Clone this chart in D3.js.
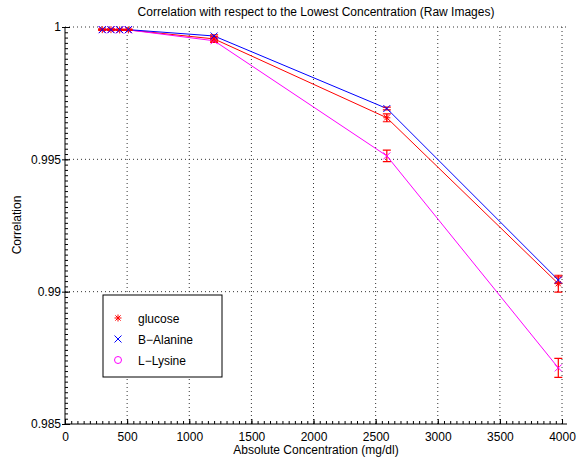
<!DOCTYPE html>
<html>
<head>
<meta charset="utf-8">
<script src="https://cdn.jsdelivr.net/npm/d3@7"></script>
<style>
  body { margin: 0; background: #fff; }
  svg { font-family: "Liberation Sans", Arial, sans-serif; }
  .axis path, .axis line { stroke: #000; }
  .axis text { font-size: 12px; fill: #000; }
</style>
</head>
<body>
<div id="chart"></div>
<script>
"use strict"

// concentrations (mg/dl)
var conc = [300, 370, 440, 510, 1200, 2590, 3970];
var glucose = [0.99990, 0.99990, 0.99989, 0.99989, 0.99955, 0.99657, 0.99030];
var alanine = [0.99990, 0.99990, 0.99990, 0.99990, 0.99966, 0.99692, 0.99044];
var lysine = [0.99990, 0.99990, 0.99989, 0.99989, 0.99948, 0.99513, 0.98712];
var glucoseErr = [0.00002, 0.00002, 0.00002, 0.00002, 0.00008, 0.00015, 0.00032];
var alanineErr = [0.00001, 0.00001, 0.00001, 0.00001, 0.00004, 0.00005, 0.00012];
var lysineErr = [0.00002, 0.00002, 0.00002, 0.00002, 0.00006, 0.00022, 0.00036];
var xTicks = [0, 500, 1000, 1500, 2000, 2500, 3000, 3500, 4000];
var yTicks = [0.985, 0.99, 0.995, 1];
var seriesNames = ['glucose', 'B\u2212Alanine', 'L\u2212Lysine'];

var width = 577, height = 461;
var margin = { left: 65, right: 10, top: 27, bottom: 37 };

var svg = d3.select('#chart').append('svg')
  .attr('width', width)
  .attr('height', height);

var x = d3.scaleLinear().domain([0, 4040]).range([margin.left, 567]);
var y = d3.scaleLinear().domain([0.985, 1]).range([424, margin.top]);

// dotted grid
var grid = svg.append('g').attr('class', 'grid');
grid.selectAll('.vg').data(xTicks.slice(1)).enter().append('line')
  .attr('x1', d => x(d)).attr('x2', d => x(d))
  .attr('y1', y(0.985)).attr('y2', y(1))
  .attr('stroke', '#333').attr('stroke-width', 1)
  .attr('stroke-dasharray', '1,3');
grid.selectAll('.hg').data(yTicks.slice(1)).enter().append('line')
  .attr('x1', x(0)).attr('x2', x(4040))
  .attr('y1', d => y(d)).attr('y2', d => y(d))
  .attr('stroke', '#333').attr('stroke-width', 1)
  .attr('stroke-dasharray', '1,3');

// minor ticks
svg.append('g')
  .attr('class', 'axis')
  .attr('transform', 'translate(0,' + y(0.985) + ')')
  .call(d3.axisBottom(x).tickValues(d3.range(0, 4001, 50)).tickSize(-3).tickFormat(''))
  .select('.domain').remove();
svg.append('g')
  .attr('class', 'axis')
  .attr('transform', 'translate(' + x(0) + ',0)')
  .call(d3.axisLeft(y).tickValues(d3.range(0, 76).map(i => 0.985 + i * 0.0002)).tickSize(-3).tickFormat(''))
  .select('.domain').remove();

// main axes
svg.append('g')
  .attr('class', 'axis')
  .attr('transform', 'translate(0,' + y(0.985) + ')')
  .call(d3.axisBottom(x).tickValues(xTicks).tickFormat(d3.format('d'))
    .tickSizeInner(-5).tickSizeOuter(0).tickPadding(8))
  .call(g => g.select('.domain').attr('d', 'M' + x(0) + ',0H' + x(4040)));
svg.append('g')
  .attr('class', 'axis')
  .attr('transform', 'translate(' + x(0) + ',0)')
  .call(d3.axisLeft(y).tickValues(yTicks).tickFormat(d => d === 1 ? '1' : d3.format('')(+d.toFixed(3)))
    .tickSizeInner(-5).tickSizeOuter(0).tickPadding(4))
  .call(g => g.select('.domain').attr('d', 'M0,' + y(0.985) + 'V' + y(1)))
  .call(g => g.selectAll('.tick line').attr('x1', -3));

// lines
var line = d3.line().x((d, i) => x(conc[i])).y(d => y(d));
var series = [
  { vals: glucose, err: glucoseErr, color: '#ff0000' },
  { vals: lysine, err: lysineErr, color: '#ff00ff' },
  { vals: alanine, err: alanineErr, color: '#0000ff' }
];
series.forEach(s => {
  svg.append('path').datum(s.vals)
    .attr('d', line)
    .attr('fill', 'none')
    .attr('stroke', s.color)
    .attr('stroke-width', 1);
});

// error bars (red)
series.forEach(s => {
  var eb = svg.append('g');
  s.vals.forEach((v, i) => {
    var cx = x(conc[i]), y0 = y(v - s.err[i]), y1 = y(v + s.err[i]);
    eb.append('path')
      .attr('d', 'M' + cx + ',' + y0 + 'V' + y1 +
        'M' + (cx - 4) + ',' + y0 + 'H' + (cx + 4) +
        'M' + (cx - 4) + ',' + y1 + 'H' + (cx + 4))
      .attr('stroke', '#ff0000').attr('stroke-width', 1.2).attr('fill', 'none');
  });
});

function xMark(g, cx, cy, r, color) {
  g.append('path')
    .attr('d', 'M' + (cx - r) + ',' + (cy - r) + 'L' + (cx + r) + ',' + (cy + r) +
      'M' + (cx - r) + ',' + (cy + r) + 'L' + (cx + r) + ',' + (cy - r))
    .attr('stroke', color).attr('stroke-width', 1).attr('fill', 'none');
}
function starMark(g, cx, cy, r, color) {
  xMark(g, cx, cy, r * 0.75, color);
  g.append('path')
    .attr('d', 'M' + (cx - r) + ',' + cy + 'H' + (cx + r) + 'M' + cx + ',' + (cy - r) + 'V' + (cy + r))
    .attr('stroke', color).attr('stroke-width', 1).attr('fill', 'none');
}

var marks = svg.append('g');
lysine.forEach((v, i) => xMark(marks, x(conc[i]), y(v), 3.5, '#ff00ff'));
glucose.forEach((v, i) => starMark(marks, x(conc[i]), y(v), 3.5, '#ff0000'));
alanine.forEach((v, i) => xMark(marks, x(conc[i]), y(v), 3.5, '#0000ff'));

// legend
var lg = svg.append('g').attr('transform', 'translate(103,295)');
lg.append('rect').attr('width', 119).attr('height', 82)
  .attr('fill', '#fff').attr('stroke', '#000').attr('stroke-width', 1);
var legendColors = ['#ff0000', '#0000ff', '#ff00ff'];
seriesNames.forEach((name, i) => {
  var ly = 23 + i * 21;
  if (i === 0) starMark(lg, 15, ly, 3.5, legendColors[i]);
  else if (i === 1) xMark(lg, 15, ly, 3.5, legendColors[i]);
  else lg.append('circle').attr('cx', 15).attr('cy', ly).attr('r', 3.5)
    .attr('fill', 'none').attr('stroke', legendColors[i]).attr('stroke-width', 1);
  lg.append('text').attr('x', 35).attr('y', ly + 4.5)
    .attr('font-size', 12).text(name);
});

// titles
svg.append('text')
  .attr('x', 316).attr('y', 16)
  .attr('text-anchor', 'middle').attr('font-size', 12)
  .text('Correlation with respect to the Lowest Concentration (Raw Images)');
svg.append('text')
  .attr('x', 316).attr('y', 454)
  .attr('text-anchor', 'middle').attr('font-size', 12)
  .text('Absolute Concentration (mg/dl)');
svg.append('text')
  .attr('transform', 'translate(21,225) rotate(-90)')
  .attr('text-anchor', 'middle').attr('font-size', 12)
  .text('Correlation');
</script>
</body>
</html>
